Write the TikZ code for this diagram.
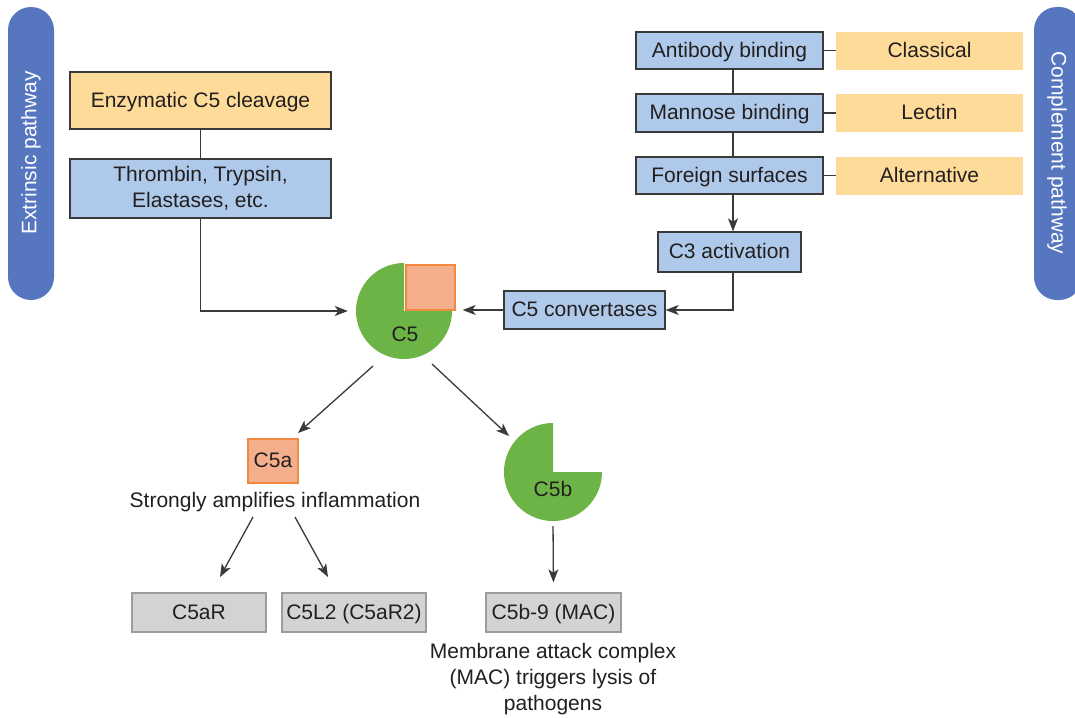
\documentclass[tikz,border=0pt]{standalone}
\usepackage{fontspec}
\setmainfont{Liberation Sans}
\usetikzlibrary{arrows.meta}
\definecolor{txt}{HTML}{231F20}
\definecolor{edge}{HTML}{3A3A3A}
\definecolor{boxblue}{HTML}{AEC9E9}
\definecolor{boxorange}{HTML}{FEDB99}
\definecolor{boxgray}{HTML}{D1D3D4}
\definecolor{grayedge}{HTML}{9C9C9C}
\definecolor{pillblue}{HTML}{5677BF}
\definecolor{c5green}{HTML}{6DB446}
\definecolor{salmon}{HTML}{F5AE8C}
\definecolor{salmonedge}{HTML}{F0883E}
\tikzset{
  base/.style={font=\fontsize{21}{26}\selectfont, text=txt, inner sep=0pt, align=center},
  one/.style={text height=15pt, text depth=1.8pt},
  bluebox/.style={base, draw=edge, line width=1.3pt, fill=boxblue},
  orangebox/.style={base, draw=edge, line width=1.3pt, fill=boxorange},
  lab/.style={base, one, fill=boxorange},
  graybox/.style={base, one, draw=grayedge, line width=1.3pt, fill=boxgray},
  sqbox/.style={base, draw=salmonedge, line width=1.3pt, fill=salmon},
  conn/.style={draw=edge, line width=1.3pt},
  arr/.style={conn, -{Stealth[length=13pt,width=10pt,inset=3.5pt]}},
  pill/.style={fill=pillblue, rounded corners=23pt},
  pilltext/.style={font=\fontsize{21}{26}\selectfont, text=white, inner sep=0pt},
}
\begin{document}
\begin{tikzpicture}[x=1pt,y=1pt]
\clip (0,0) rectangle (1075,-717);
\fill[white] (0,0) rectangle (1075,-717);

% pills
\fill[pill] (8,-7) rectangle (54,-300);
\node[pilltext, rotate=90] (ext) at (31,-153) {Extrinsic pathway};
\fill[pill] (1034,-7) rectangle (1082,-300);
\node[pilltext, rotate=-90] (comp) at (1057,-153) {Complement pathway};

% extrinsic boxes
\node[orangebox, one, minimum width=261pt, minimum height=57pt] (enz) at (200.5,-100.5) {Enzymatic C5 cleavage};
\node[bluebox, minimum width=261pt, minimum height=59pt] (thr) at (200.5,-188.5) {Thrombin, Trypsin,\\Elastases, etc.};

% complement boxes
\node[bluebox, one, minimum width=187pt, minimum height=37pt] (ab) at (729.5,-50.5) {Antibody binding};
\node[bluebox, one, minimum width=187pt, minimum height=38pt] (man) at (729.5,-113) {Mannose binding};
\node[bluebox, one, minimum width=187pt, minimum height=37pt] (for) at (729.5,-175.5) {Foreign surfaces};
\node[lab, minimum width=187pt, minimum height=38pt] (cls) at (929.5,-51) {Classical};
\node[lab, minimum width=187pt, minimum height=38pt] (lec) at (929.5,-113) {Lectin};
\node[lab, minimum width=187pt, minimum height=38pt] (alt) at (929.5,-175.5) {Alternative};
\node[bluebox, one, minimum width=143pt, minimum height=40pt] (c3) at (729.5,-252) {C3 activation};
\node[bluebox, one, minimum width=161pt, minimum height=38pt] (conv) at (584.5,-310) {C5 convertases};

% C5 pie
\fill[c5green] (404,-311) -- ++(48,0) arc[start angle=0, end angle=-270, radius=48] -- cycle;
\node[sqbox, minimum width=49pt, minimum height=45pt] (c5sq) at (430.5,-287.5) {};
\node[base, circle, minimum size=96pt] (c5) at (404,-311) {};
\node[base] (c5t) at (405,-334) {C5};

% C5a
\node[sqbox, one, minimum width=50pt, minimum height=44pt] (c5a) at (273,-461) {C5a};
\node[base] (infl) at (275,-502) {Strongly amplifies inflammation};

% C5b pie
\fill[c5green] (553,-472) -- ++(49,0) arc[start angle=0, end angle=-270, radius=49] -- cycle;
\node[base, circle, minimum size=98pt] (c5b) at (553,-472) {};
\node[base] (c5bt) at (553,-489) {C5b};

% receptors
\node[graybox, minimum width=134pt, minimum height=39pt] (c5ar) at (199,-612.5) {C5aR};
\node[graybox, minimum width=144pt, minimum height=39pt] (c5l2) at (354,-612.5) {C5L2 (C5aR2)};
\node[graybox, minimum width=135pt, minimum height=39pt] (mac) at (553.5,-612.5) {C5b-9 (MAC)};
\node[base] (mact) at (553,-679) {Membrane attack complex\\(MAC) triggers lysis of\\pathogens};

% coordinates for free ends
\coordinate (a1s) at (373,-366);
\coordinate (a1e) at (298,-433);
\coordinate (a2s) at (432,-364);
\coordinate (a2e) at (509,-436);
\coordinate (a3s) at (253,-517);
\coordinate (a3e) at (220,-577);
\coordinate (a4s) at (295,-517);
\coordinate (a4e) at (328,-577);

% connectors
\draw[conn] (enz) -- (thr);
\draw[arr, shorten >=8pt] (thr.south) |- (c5.west);
\draw[conn] ([xshift=3.5pt]ab.south) -- ([xshift=3.5pt]man.north);
\draw[conn] ([xshift=3.5pt]man.south) -- ([xshift=3.5pt]for.north);
\draw[arr] ([xshift=3.5pt]for.south) -- ([xshift=3.5pt]c3.north);
\draw[conn] (ab.east) -- (ab.east -| cls.west);
\draw[conn] (man.east) -- (man.east -| lec.west);
\draw[conn] (for.east) -- (for.east -| alt.west);
\draw[arr] ([xshift=3.5pt]c3.south) |- (conv.east);
\draw[arr, shorten >=7pt] (conv.west) -- (conv.west -| c5sq.east);
\draw[arr] (a1s) -- (a1e);
\draw[arr] (a2s) -- (a2e);
\draw[arr, shorten <=5pt, shorten >=10pt] (c5b.south) -- (mac.north);
\draw[arr] (a3s) -- (a3e);
\draw[arr] (a4s) -- (a4e);
\end{tikzpicture}
\end{document}
